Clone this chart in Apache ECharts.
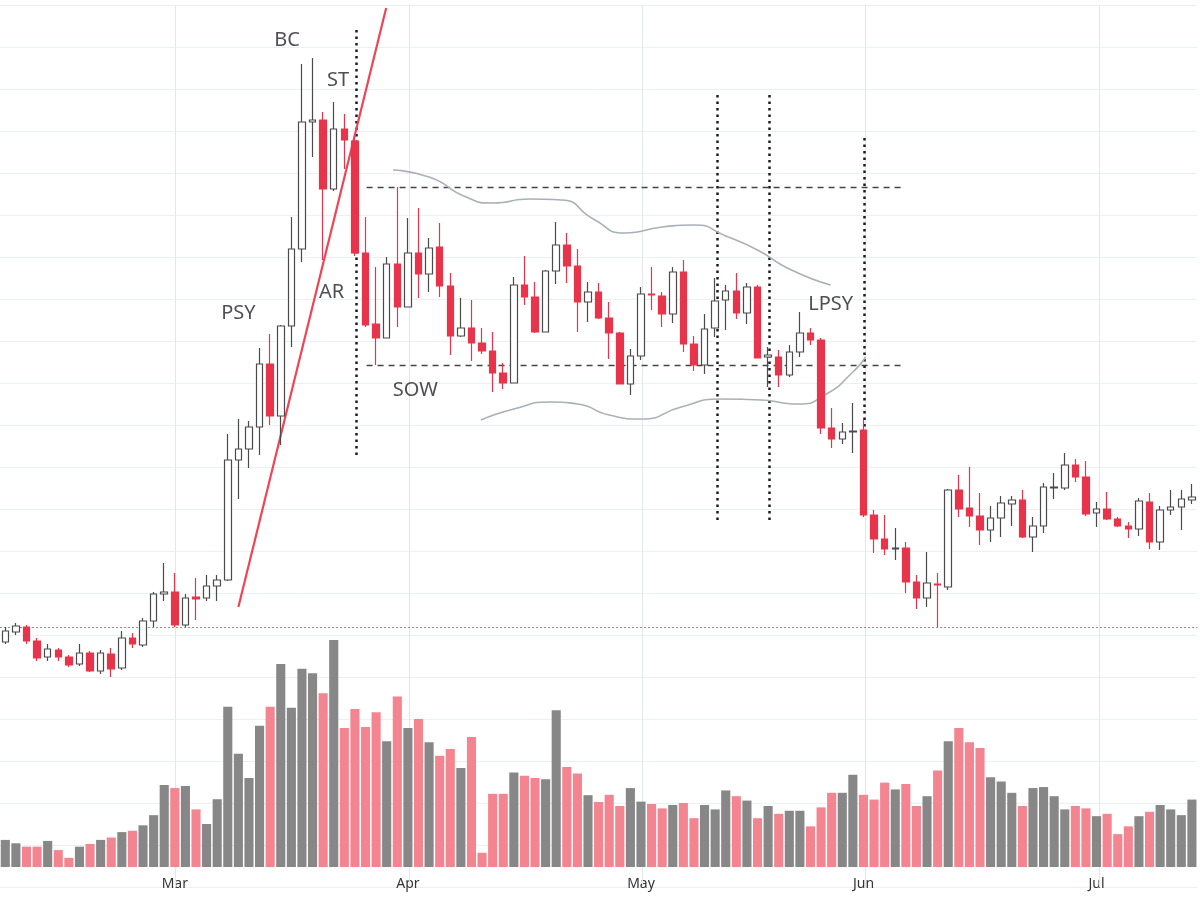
<!DOCTYPE html>
<html>
<head>
<meta charset="utf-8">
<script src="https://cdn.jsdelivr.net/npm/echarts@6/dist/echarts.min.js"></script>
<style>html,body{margin:0;padding:0;background:#fff}#chart{width:1200px;height:900px}</style>
</head>
<body>
<div id="chart"></div>
<script>
// K线 [开, 收, 低, 高]
var candles = [
 [35,46,33,50],[45,51,42,54],[50,36,33,52],[36,19,16,39],[20,28,16,33],[27,20,16,29],[20,12,10,22],[13,24,11,33],
 [24,6,5,26],[6,24,3,27],[23,8,0,29],[9,39,7,46],[39,33,29,44],[32,56,30,59],[56,83,50,85],[83,85,76,114],
 [85,52,50,104],[52,79,50,83],[80,78,57,99],[79,91,76,102],[91,97,76,102],[97,217,96,243],[217,228,178,258],[228,250,209,256],
 [250,313,222,329],[313,261,252,343],[261,351,232,352],[351,428,330,460],[428,555,415,613],[555,557,520,619],[557,488,417,565],[488,548,486,575],
 [548,537,508,563],[536,424,421,538],[424,352,350,460],[353,339,312,410],[339,413,339,420],[413,370,350,490],[370,424,370,459],[424,403,379,469],
 [403,429,385,439],[430,391,380,454],[391,341,322,404],[341,349,340,379],[349,334,316,377],[334,326,323,349],[326,304,285,345],[304,294,288,314],
 [294,392,294,400],[392,380,372,421],[380,345,344,395],[345,406,345,407],[406,432,393,455],[432,411,394,444],[411,375,345,428],[375,385,355,395],
 [385,359,358,394],[359,344,318,375],[344,293,293,345],[293,321,282,328],[321,383,317,390],[383,382,367,410],[381,363,350,385],[363,405,354,410],
 [405,333,325,417],[333,312,306,341],[312,348,303,363],[349,376,340,399],[377,386,347,392],[386,364,358,404],[364,390,353,394],[390,319,319,392],
 [320,322,290,330],[320,302,290,327],[302,325,300,332],[325,344,320,365],[344,337,332,349],[337,249,243,339],[249,238,229,269],[238,245,233,254],
 [245,246,224,274],[247,162,160,257],[162,138,124,167],[138,128,122,162],[128,129,117,149],[129,95,84,135],[95,79,68,102],[79,94,70,125],
 [93,92,50,104],[90,187,87,188],[187,168,160,202],[169,161,150,210],[161,147,132,184],[147,159,135,171],[159,174,140,181],[173,177,151,181],
 [177,140,139,187],[140,151,125,160],[151,190,144,194],[189,190,178,204],[189,212,187,224],[212,200,195,218],[200,163,161,216],[164,168,150,175],
 [168,158,157,185],[158,151,150,160],[151,148,139,155],[148,176,141,179],[175,135,128,184],[135,167,127,171],[167,170,162,187],[170,178,147,187],
 [177,180,173,193]
];
// 成交量
var volume = [
 80,70,60,60,77,50,27,60,68,80,87,103,107,123,153,242,233,239,170,127,200,473,334,263,417,473,599,470,585,572,513,670,
 410,466,413,457,371,503,410,437,368,328,348,292,384,42,216,216,279,269,263,259,463,295,276,212,192,213,180,233,193,186,
 173,183,189,144,183,170,226,209,196,144,180,157,166,166,120,176,219,219,272,213,199,249,229,245,180,209,285,371,410,368,
 351,265,252,219,180,233,236,209,170,180,173,150,157,97,120,150,163,183,170,153,199
];
var months = {16:'Mar', 38:'Apr', 60:'May', 81:'Jun', 103:'Jul'};
var monthLines = [16, 38.1, 60.1, 81.2, 103.3];
var dottedLines = [[33.1,647,220],[67.2,582,157],[72.1,582,157],[81.1,539,247]]; // x, 上, 下
var rangeLevels = [490, 312];
var trendLine = [[22.0,70],[35.95,669]];
var upperCurve = [[36.6,507],[40,500],[43.5,480],[46,474],[49.5,478],[52.5,477],[55.5,458],[58.5,444],[62,450],[65,452],[68,441],[71,427],[74,408],[77.9,392]];
var lowerCurve = [[44.9,257],[48,268],[51.5,275],[54,273],[57,262],[60,258],[63.8,270],[67.5,278],[71.3,277],[74.8,273],[77.5,283],[80,305],[81.2,320]];
var labels = [['BC',26.6,637],['ST',31.4,597],['PSY',22.0,364],['AR',30.8,385],['SOW',38.7,287],['LPSY',77.9,373]];

var cats = candles.map(function(c, i){ return String(i) })
var UP = '#4a4a4a', DOWN = '#e8344b'

var segs = []
monthLines.forEach(function(x){
	segs.push({coords:[[x,-210],[x,672]], lineStyle:{color:'#e3e7ec', width:1, type:'solid'}})
})
dottedLines.forEach(function(d){
	segs.push({coords:[[d[0],d[1]],[d[0],d[2]]], lineStyle:{color:'#1a1a22', width:2.5, type:[2.5,4]}})
})
rangeLevels.forEach(function(v){
	segs.push({coords:[[34.1,v],[84.8,v]], lineStyle:{color:'#444', width:1.4, type:[6,5]}})
})
segs.push({coords:[[-0.5,50],[112.5,50]], lineStyle:{color:'#ec6b78', width:1, type:[2,2]}})
segs.push({coords:trendLine, lineStyle:{color:'#ef4455', width:2.2, type:'solid'}})

var myChart = echarts.init(document.getElementById('chart'))
var option = {
	animation: false,
	grid: [
		{left: -1.8, width: 1199, top: 5, height: 882},
		{left: -1.8, width: 1199, top: 640, bottom: 33}
	],
	xAxis: [
		{type:'category', gridIndex:0, data:cats, show:false},
		{type:'category', gridIndex:1, data:cats, axisLine:{show:false}, axisTick:{show:false},
			axisLabel:{interval:function(i){ return months[i] !== undefined }, formatter:function(v, i){ return months[i] || '' },
				color:'#333', fontSize:14, margin:10, fontFamily:'Noto Sans'}},
		{type:'value', gridIndex:0, min:-0.5, max:112.5, show:false}
	],
	yAxis: [
		{type:'value', gridIndex:0, min:-210, max:672, interval:42, axisLabel:{show:false}, axisLine:{show:false}, axisTick:{show:false},
			splitLine:{lineStyle:{color:'#eceff3'}}},
		{type:'value', gridIndex:1, min:0, max:670, show:false, splitLine:{show:false}}
	],
	series: [
		{type:'lines', coordinateSystem:'cartesian2d', xAxisIndex:2, yAxisIndex:0, data:segs, z:1, silent:true, lineStyle:{opacity:1}},
		{type:'bar', xAxisIndex:1, yAxisIndex:1, barCategoryGap:'14%', z:2,
			data: volume.map(function(v, i){
				var c = candles[i]
				return {value:v, itemStyle:{color: c[1] < c[0] ? '#f4848f' : '#878787'}}
			})},
		{type:'candlestick', xAxisIndex:0, yAxisIndex:0, barWidth:7, clip:false, z:5, data:candles,
			itemStyle:{color:'#fff', color0:DOWN, borderColor:UP, borderColor0:DOWN, borderWidth:1.2}},
		{type:'line', xAxisIndex:2, yAxisIndex:0, data:upperCurve, smooth:0.6, symbol:'none', z:3, lineStyle:{color:'#a9b0b8', width:1.6}},
		{type:'line', xAxisIndex:2, yAxisIndex:0, data:lowerCurve, smooth:0.6, symbol:'none', z:3, lineStyle:{color:'#a9b0b8', width:1.6}},
		{type:'scatter', xAxisIndex:2, yAxisIndex:0, symbolSize:0, z:6,
			data: labels.map(function(l){ return {name:l[0], value:[l[1], l[2]]} }),
			label:{show:true, position:'inside', formatter:'{b}', color:'#22222a', fontSize:20, fontFamily:'Noto Sans'}}
	]
};
myChart.setOption(option);
</script>
</body>
</html>
